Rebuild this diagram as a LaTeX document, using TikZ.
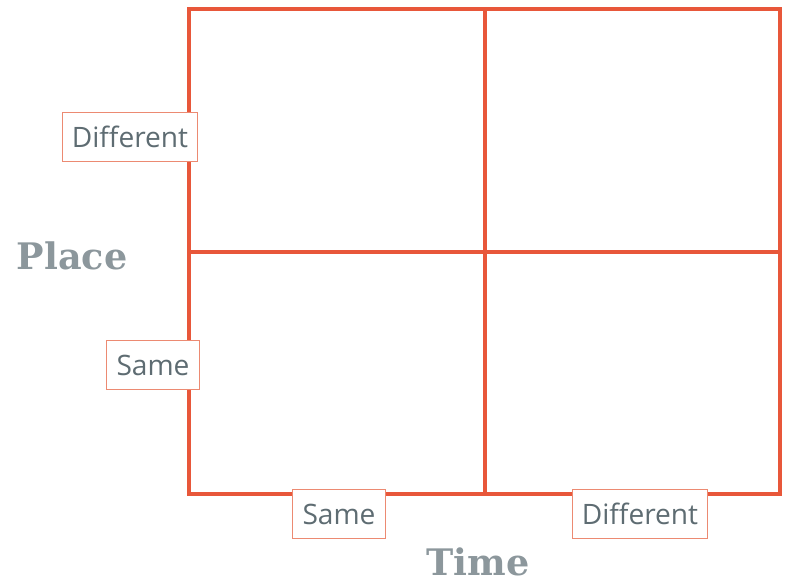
\documentclass[tikz,border=0pt]{standalone}
\usepackage{fontspec}
\setsansfont{Open Sans}
\newfontfamily\headfont{DejaVu Serif}
\usepackage{xcolor}
\usetikzlibrary{positioning}

\definecolor{gridred}{HTML}{E8573A}
\definecolor{boxred}{HTML}{EC8A72}
\definecolor{labelgrey}{HTML}{5E6C72}
\definecolor{headgrey}{HTML}{8C979C}

\begin{document}
\begin{tikzpicture}[
    gridline/.style={draw=gridred, line width=2.4pt, line cap=round},
    axisbox/.style={draw=boxred, line width=0.8pt, fill=white, text=labelgrey,
        font=\sffamily\fontsize{20}{24}\selectfont, inner xsep=0.24cm,
        minimum height=1.22cm},
    axisname/.style={text=headgrey, font=\headfont\bfseries\fontsize{26}{30}\selectfont}
]
    \useasboundingbox (0,0) rectangle (19.7,14.6);

    % corners of the grid
    \coordinate (nw) at (4.725,14.375);
    \coordinate (se) at (19.5,2.25);
    \coordinate (mid) at (12.125,8.3);

    \draw[gridline] (nw) rectangle (se);
    \draw[gridline] (mid |- nw) -- (mid |- se);
    \draw[gridline] (mid -| nw) -- (mid -| se);

    \node[axisbox] (placediff) at (3.25,11.175) {Different};
    \node[axisbox] (placesame) at (3.825,5.475) {Same};
    \node[axisname] (place) at (1.8,8.2) {Place};

    \node[axisbox] (timesame) at (8.475,1.75) {Same};
    \node[axisbox] (timediff) at (16.0,1.75) {Different};
    \node[axisname] (time) at (11.95,0.55) {Time};
\end{tikzpicture}
\end{document}
